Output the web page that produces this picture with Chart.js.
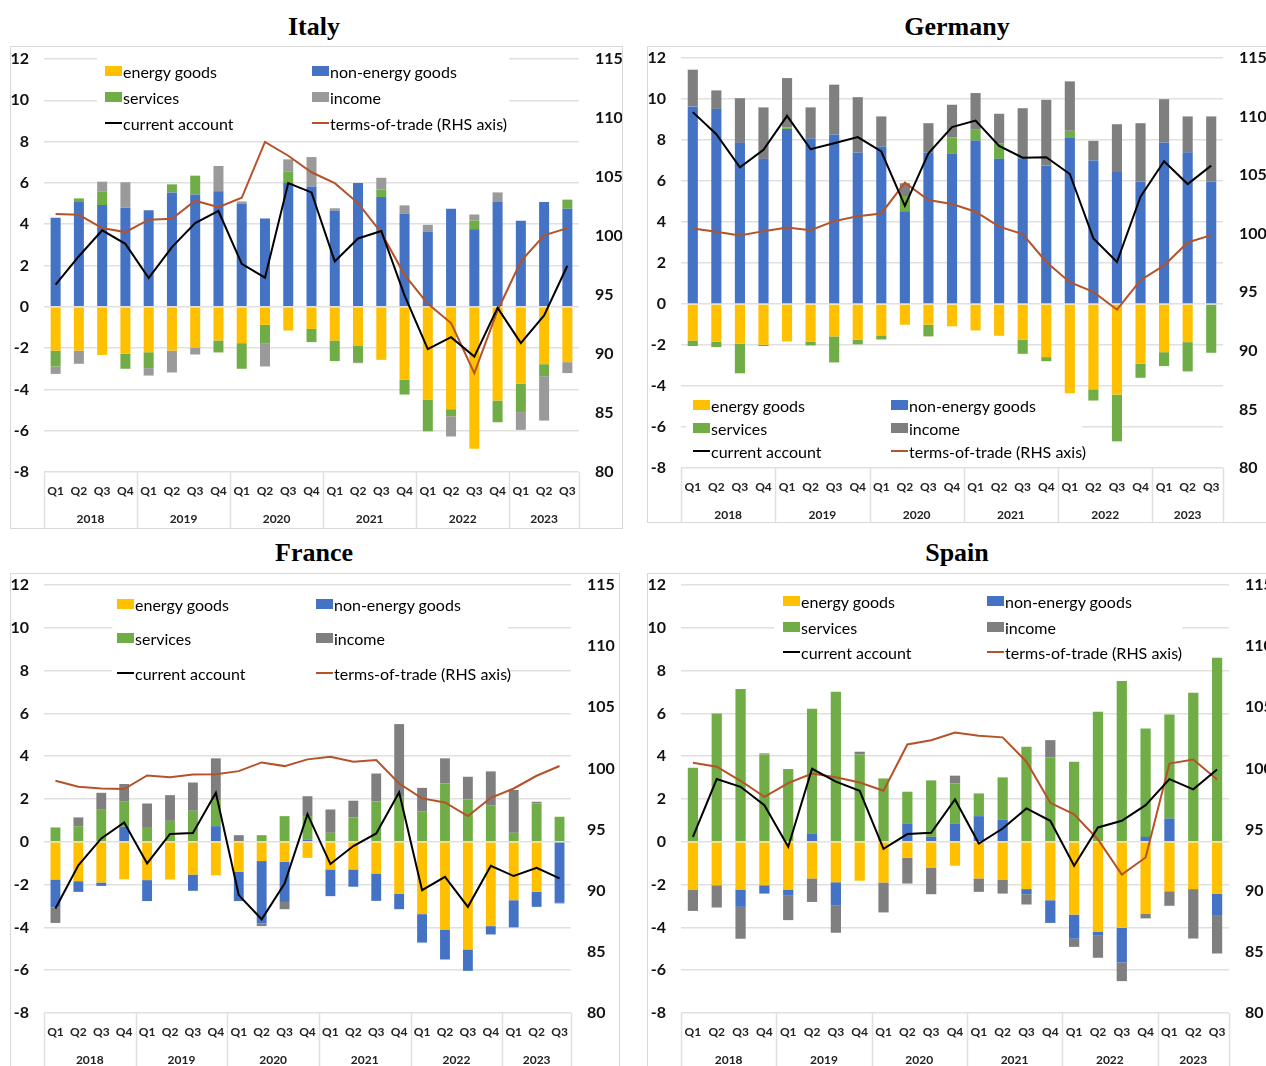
<!DOCTYPE html>
<html>
<head>
<meta charset="utf-8">
<script src="https://cdn.jsdelivr.net/npm/chart.js@4.4.0/dist/chart.umd.min.js"></script>
<style>
  html, body { margin: 0; padding: 0; background: #fff; width: 1266px; height: 1066px; overflow: hidden; }
  .panel { position: absolute; border: 1px solid #d9d9d9; box-sizing: border-box; overflow: hidden; }
  .panel canvas { position: absolute; left: 0; top: 0; }
  .title { position: absolute; transform: translateX(-50%); white-space: nowrap;
           font-family: "Liberation Serif", "Times New Roman", serif; font-weight: bold; font-size: 26px; color: #000; line-height: 30px; }
  .item { position: absolute; height: 20px; display: flex; align-items: center; white-space: nowrap;
          font-family: Lato, "Open Sans", sans-serif; font-size: 16px; color: #000; }
  .sw { width: 17px; height: 10px; margin-right: 1px; }
  .ln { width: 17px; height: 2px; margin-right: 1px; }
</style>
</head>
<body>
<script>
// ---- categories ----
const quarters = ['Q1','Q2','Q3','Q4','Q1','Q2','Q3','Q4','Q1','Q2','Q3','Q4',
                  'Q1','Q2','Q3','Q4','Q1','Q2','Q3','Q4','Q1','Q2','Q3'];
const years = ['2018','2019','2020','2021','2022','2023'];
const seriesNames = ['energy goods','non-energy goods','services','income','current account','terms-of-trade (RHS axis)'];
const leftTicks = { min: -8, max: 12, step: 2 };
const rightTicks = { min: 80, max: 115, step: 5 };

// ---- Italy ----
const italyEnergy    = [-2.12,-2.12,-2.33,-2.28,-2.20,-2.12,-1.97,-1.63,-1.76,-0.87,-1.15,-1.07,-1.63,-1.87,-2.57,-3.54,-4.49,-4.96,-6.88,-4.54,-3.73,-2.78,-2.68];
const italyNonEnergy = [4.31,5.07,4.93,4.80,4.68,5.54,5.44,5.59,4.99,4.28,5.99,5.83,4.65,5.99,5.32,4.52,3.63,4.75,3.76,5.07,4.17,5.07,4.75];
const italyServices  = [-0.77,0.18,0.66,-0.72,-0.77,0.39,0.91,-0.58,-1.24,-0.89,0.57,-0.64,-1.00,-0.81,0.35,-0.71,-1.54,-0.34,0.42,-1.05,-1.37,-0.58,0.44];
const italyIncome    = [-0.36,-0.64,0.47,1.23,-0.36,-1.06,-0.34,1.23,0.11,-1.13,0.58,1.42,0.12,-0.05,0.58,0.39,0.34,-0.98,0.29,0.47,-0.86,-2.15,-0.53];
const italyCurrent   = [1.07,2.45,3.70,3.05,1.39,2.89,4.05,4.64,2.08,1.41,5.99,5.54,2.20,3.31,3.67,0.55,-2.05,-1.47,-2.41,-0.05,-1.76,-0.42,1.99];
const italyTerms     = [101.86,101.80,100.67,100.33,101.38,101.46,102.99,102.45,103.24,107.97,106.80,105.40,104.48,102.79,100.28,96.71,94.25,92.62,88.38,93.69,97.85,100.05,100.67];

// ---- Germany ----
const germanyEnergy    = [-1.78,-1.83,-1.94,-1.99,-1.83,-1.83,-1.58,-1.74,-1.53,-1.01,-1.01,-1.09,-1.29,-1.55,-1.74,-2.59,-4.35,-4.16,-4.42,-2.92,-2.35,-1.86,0];
const germanyNonEnergy = [9.64,9.52,7.86,7.08,8.54,8.07,8.27,7.39,7.68,4.52,7.39,7.32,7.97,7.08,7.11,6.75,8.14,7.00,6.44,5.98,7.88,7.40,5.98];
const germanyServices  = [-0.27,-0.27,-1.44,-0.06,0.07,-0.19,-1.27,-0.23,-0.20,0.75,-0.57,0.80,0.56,0.76,-0.69,-0.20,0.31,-0.55,-2.28,-0.68,-0.68,-1.43,-2.38];
const germanyIncome    = [1.79,0.90,2.18,2.51,2.41,1.52,2.43,2.70,1.47,0.62,1.43,1.60,1.76,1.44,2.44,3.21,2.41,0.96,2.33,2.84,2.11,1.75,3.17];
const germanyCurrent   = [9.36,8.28,6.67,7.52,9.18,7.55,7.84,8.14,7.44,4.79,7.35,8.63,8.95,7.71,7.14,7.16,6.34,3.20,2.05,5.23,6.96,5.85,6.75];
const germanyTerms     = [100.45,100.17,99.85,100.22,100.53,100.30,101.07,101.50,101.73,104.36,102.87,102.54,101.88,100.60,99.97,97.59,95.86,95.03,93.51,96.03,97.29,99.25,99.88];

// ---- France ----
const franceEnergy    = [-1.76,-1.84,-1.90,-1.75,-1.79,-1.76,-1.53,-1.57,-1.40,-0.90,-0.94,-0.75,-1.29,-1.29,-1.48,-2.42,-3.38,-4.10,-5.03,-3.94,-2.73,-2.34,0];
const franceNonEnergy = [-1.31,-0.50,-0.16,0.70,-0.98,0,-0.76,0.73,-1.37,-2.92,-1.87,0.11,-1.25,-0.81,-1.28,-0.73,-1.33,-1.40,-1.00,-0.39,-1.27,-0.70,-2.85];
const franceServices  = [0.67,0.73,1.53,1.20,0.65,0.98,1.45,1.22,0,0.31,1.20,1.09,0.42,1.14,1.89,2.10,1.43,2.73,1.98,1.71,0.42,1.79,1.17];
const franceIncome    = [-0.72,0.41,0.76,0.80,1.14,1.20,1.32,1.95,0.31,-0.12,-0.34,0.93,1.09,0.78,1.30,3.40,1.09,1.17,1.06,1.58,2.00,0.08,-0.03];
const franceCurrent   = [-3.12,-1.10,0.16,0.90,-1.01,0.37,0.41,2.29,-2.49,-3.62,-1.95,1.29,-1.04,-0.20,0.39,2.31,-2.26,-1.64,-3.04,-1.12,-1.60,-1.22,-1.71];
const franceTerms     = [98.99,98.50,98.36,98.31,99.43,99.27,99.51,99.53,99.78,100.49,100.19,100.74,100.95,100.55,100.68,98.77,97.55,97.22,96.10,97.60,98.36,99.40,100.20];

// ---- Spain ----
const spainEnergy    = [-2.23,-2.03,-2.23,-2.03,-2.23,-1.71,-1.89,-1.82,-1.90,-0.75,-1.20,-1.12,-1.71,-1.76,-2.21,-2.73,-3.40,-4.21,-4.02,-3.35,-2.31,-2.21,-2.42];
const spainNonEnergy = [0,0,-0.81,-0.39,-0.26,0.39,-1.07,0,0,0.86,0.23,0.86,1.20,1.04,-0.24,-1.06,-1.13,-0.15,-1.62,0.23,1.09,0,-1.04];
const spainServices  = [3.46,6.00,7.14,4.08,3.40,5.83,7.01,4.08,2.96,1.48,2.64,1.87,1.06,1.97,4.44,3.94,3.74,6.08,7.51,5.07,4.86,6.97,8.60];
const spainIncome    = [-1.00,-1.04,-1.49,0.05,-1.17,-1.10,-1.29,0.13,-1.40,-1.20,-1.25,0.36,-0.63,-0.66,-0.48,0.81,-0.38,-1.06,-0.87,-0.23,-0.68,-2.31,-1.76];
const spainCurrent   = [0.23,2.93,2.57,1.71,-0.23,3.41,2.81,2.38,-0.33,0.36,0.42,1.98,-0.08,0.62,1.56,0.98,-1.12,0.67,0.98,1.71,2.93,2.45,3.38];
const spainTerms     = [100.46,100.14,98.99,97.68,98.80,99.58,99.27,98.85,98.17,101.96,102.31,102.94,102.68,102.54,100.55,97.19,96.24,94.19,91.32,92.72,100.40,100.73,99.10];

// ---- styling ----
const COLORS = { energy: '#FFC000', nonEnergy: '#4472C4', services: '#70AD47', income: '#7F7F7F', current: '#000000', terms: '#B4532A' };
const GRID = '#e0e0e0';
const TICK_FONT = { family: 'Lato, "Open Sans", sans-serif', weight: 'bold' };

// box: page rect of the framed panel; plot: fixed margins of the plotting area inside the canvas
const panels = [
  { title: 'Italy', titleAt: [314, 12], box: [10, 46, 613, 483], plot: { left: 33, right: 43, top: 12, bottom: 56 },
    series: [italyEnergy, italyNonEnergy, italyServices, italyIncome, italyCurrent, italyTerms], incomeColor: '#9A9A9A',
    legend: { cols: [105, 312], rows: [71, 97, 123], mask: [97, 53, 412, 84] } },
  { title: 'Germany', titleAt: [957, 12], box: [647, 46, 620, 477], plot: { left: 33, right: 43, top: 11, bottom: 54 },
    series: [germanyEnergy, germanyNonEnergy, germanyServices, germanyIncome, germanyCurrent, germanyTerms], incomeColor: '#7F7F7F',
    legend: { cols: [693, 891], rows: [405, 428, 451], mask: [686, 392, 396, 72] } },
  { title: 'France', titleAt: [314, 538], box: [10, 573, 610, 500], plot: { left: 33, right: 48, top: 11, bottom: 59 },
    series: [franceEnergy, franceNonEnergy, franceServices, franceIncome, franceCurrent, franceTerms], incomeColor: '#7F7F7F',
    legend: { cols: [117, 316], rows: [604, 638, 673], mask: [112, 592, 396, 98] } },
  { title: 'Spain', titleAt: [957, 538], box: [647, 573, 640, 500], plot: { left: 33, right: 57, top: 11, bottom: 59 },
    series: [spainEnergy, spainNonEnergy, spainServices, spainIncome, spainCurrent, spainTerms], incomeColor: '#7F7F7F',
    legend: { cols: [783, 987], rows: [601, 627, 652], mask: [774, 592, 408, 73] } }
];

// white panel behind the legend, painted under the bars but over the gridlines
const legendMask = {
  id: 'legendMask',
  beforeDatasetsDraw(chart, args, opts) {
    const m = opts.rect; if (!m) return;
    const ctx = chart.ctx;
    ctx.save(); ctx.fillStyle = '#ffffff'; ctx.fillRect(m[0], m[1], m[2], m[3]); ctx.restore();
  }
};

// year row under the quarter labels, with separators at each year boundary
const yearAxis = {
  id: 'yearAxis',
  afterDraw(chart) {
    const x = chart.scales.x, ctx = chart.ctx, area = chart.chartArea;
    const n = chart.data.labels.length;
    const half = (area.right - area.left) / n / 2;
    const starts = [];
    chart.data.labels.forEach((q, i) => { if (q === 'Q1') starts.push(i); });
    const edges = starts.map(i => x.getPixelForValue(i) - half).concat([area.right]);
    ctx.save();
    ctx.strokeStyle = GRID; ctx.lineWidth = 1.5;
    edges.forEach(px => {
      const xx = Math.round(px) + 0.5;
      ctx.beginPath(); ctx.moveTo(xx, area.bottom); ctx.lineTo(xx, chart.height); ctx.stroke();
    });
    ctx.fillStyle = '#222'; ctx.font = 'bold 12px Lato, "Open Sans", sans-serif';
    ctx.textAlign = 'center'; ctx.textBaseline = 'middle';
    years.forEach((y, k) => {
      ctx.fillText(y, (edges[k] + edges[k + 1]) / 2, area.bottom + 47);
    });
    ctx.restore();
  }
};

panels.forEach(p => {
  const [bx, by, bw, bh] = p.box;
  const div = document.createElement('div');
  div.className = 'panel';
  Object.assign(div.style, { left: bx + 'px', top: by + 'px', width: bw + 'px', height: bh + 'px' });
  const cv = document.createElement('canvas');
  cv.width = bw - 2; cv.height = bh - 2;
  cv.style.width = (bw - 2) + 'px'; cv.style.height = (bh - 2) + 'px';
  div.appendChild(cv);
  document.body.appendChild(div);

  const t = document.createElement('div');
  t.className = 'title'; t.textContent = p.title;
  t.style.left = p.titleAt[0] + 'px'; t.style.top = p.titleAt[1] + 'px';
  document.body.appendChild(t);

  const [energy, nonEnergy, services, income, current, terms] = p.series;
  const bar = (label, data, color) => ({ type: 'bar', label, data, backgroundColor: color, borderWidth: 0,
                                         yAxisID: 'y', stack: 'flows', order: 1, barPercentage: 0.43, categoryPercentage: 1 });
  const datasets = [
    bar(seriesNames[0], energy, COLORS.energy),
    bar(seriesNames[1], nonEnergy, COLORS.nonEnergy),
    bar(seriesNames[2], services, COLORS.services),
    bar(seriesNames[3], income, p.incomeColor),
    { type: 'line', label: seriesNames[4], data: current, borderColor: COLORS.current, borderWidth: 2,
      pointRadius: 0, tension: 0, yAxisID: 'y', stack: 'ca', order: 0, fill: false },
    { type: 'line', label: seriesNames[5], data: terms, borderColor: COLORS.terms, borderWidth: 2,
      pointRadius: 0, tension: 0, yAxisID: 'y1', stack: 'tot', order: 0, fill: false }
  ];

  const ox = bx + 1, oy = by + 1;
  const m = p.legend.mask;
  // vertical scales: fixed width, no extra label overhang above/below the plot
  const fitVertical = w => s => { s.width = w; s.paddingTop = 0; s.paddingBottom = 0; };
  const chart = new Chart(cv, {
    data: { labels: quarters, datasets },
    options: {
      responsive: false, animation: false, devicePixelRatio: 1,
      layout: { padding: { top: p.plot.top, left: 0, right: 0, bottom: 0 } },
      plugins: { legend: { display: false }, tooltip: { enabled: false }, title: { display: false },
                 legendMask: { rect: [m[0] - ox, m[1] - oy, m[2], m[3]] } },
      scales: {
        x: { stacked: true, offset: true,
             grid: { display: false, drawTicks: false }, border: { display: false },
             ticks: { color: '#222', font: Object.assign({ size: 12 }, TICK_FONT), padding: 12, maxRotation: 0, autoSkip: false },
             afterFit: s => { s.height = p.plot.bottom; s.paddingLeft = 0; s.paddingRight = 0; } },
        y: { stacked: true, position: 'left', min: leftTicks.min, max: leftTicks.max,
             grid: { color: GRID, lineWidth: 1.5, drawTicks: false }, border: { display: false },
             ticks: { stepSize: leftTicks.step, color: '#111', font: Object.assign({ size: 16 }, TICK_FONT), padding: 15 },
             afterFit: fitVertical(p.plot.left) },
        y1: { position: 'right', min: rightTicks.min, max: rightTicks.max,
              grid: { display: false, drawTicks: false }, border: { display: false },
              ticks: { stepSize: rightTicks.step, color: '#111', font: Object.assign({ size: 16 }, TICK_FONT), padding: 16 },
              afterFit: fitVertical(p.plot.right) }
      }
    },
    plugins: [legendMask, yearAxis]
  });

  // legend built from the chart's own datasets, two columns by three rows
  chart.data.datasets.forEach((ds, i) => {
    const item = document.createElement('div');
    item.className = 'item';
    item.style.left = p.legend.cols[i % 2] + 'px';
    item.style.top = (p.legend.rows[Math.floor(i / 2)] - 10) + 'px';
    const mark = document.createElement('span');
    if (ds.type === 'line') { mark.className = 'ln'; mark.style.background = ds.borderColor; }
    else { mark.className = 'sw'; mark.style.background = ds.backgroundColor; }
    const txt = document.createElement('span');
    txt.textContent = ds.label;
    item.appendChild(mark); item.appendChild(txt);
    document.body.appendChild(item);
  });
});
</script>
</body>
</html>
